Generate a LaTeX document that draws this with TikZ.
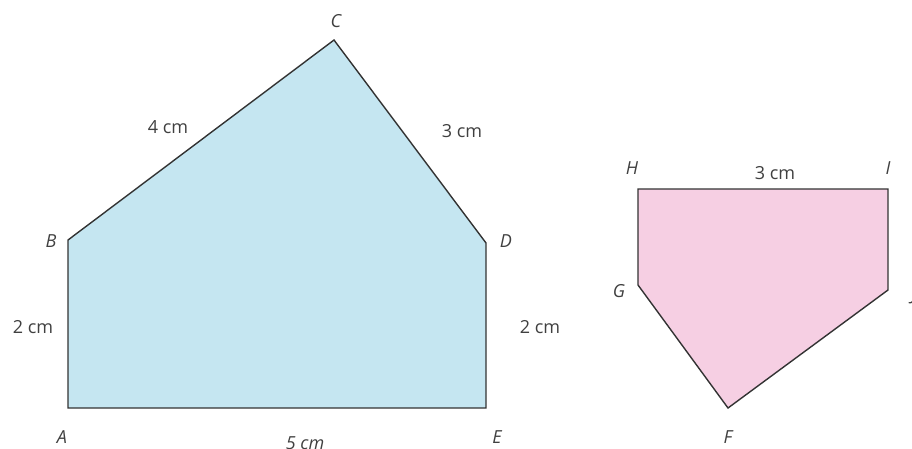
\documentclass[tikz,border=0pt]{standalone}
\usepackage{fontspec}
\setmainfont{Open Sans}
\begin{document}
\begin{tikzpicture}[x=1pt,y=-1pt,
  edge/.style={draw=black!80, line width=1.4pt, line join=miter},
  lab/.style={text=black!75, font=\fontsize{18}{20}\selectfont, inner sep=0pt},
  vlab/.style={lab, font=\fontsize{18}{20}\selectfont\itshape}]
\useasboundingbox (0,0) rectangle (912,448);
\clip (0,0) rectangle (912,448);
% left pentagon
\coordinate (A) at (68,408);
\coordinate (B) at (68,240);
\coordinate (C) at (334,40);
\coordinate (D) at (486,243);
\coordinate (E) at (486,408);
\fill[fill={rgb,255:red,197;green,230;blue,241}] (A) -- (B) -- (C) -- (D) -- (E) -- cycle;
\draw[edge] (A) -- (B) -- (C) -- (D) -- (E) -- cycle;
\node[vlab] (lA) at (62,437) {A};
\node[vlab] (lB) at (51,241) {B};
\node[vlab] (lC) at (336,21) {C};
\node[vlab] (lD) at (506,241) {D};
\node[vlab] (lE) at (497,437) {E};
\node[lab] (l4) at (168,127) {4 cm};
\node[lab] (l3a) at (462,131) {3 cm};
\node[lab] (l2a) at (33,327) {2 cm};
\node[lab] (l2b) at (540,327) {2 cm};
\node[vlab] (l5) at (305,443) {5 cm};
% right pentagon
\coordinate (H) at (638,189);
\coordinate (I) at (888,189);
\coordinate (J) at (888,290);
\coordinate (F) at (728,408);
\coordinate (G) at (638,285);
\fill[fill={rgb,255:red,246;green,207;blue,227}] (H) -- (I) -- (J) -- (F) -- (G) -- cycle;
\draw[edge] (H) -- (I) -- (J) -- (F) -- (G) -- cycle;
\node[vlab] (lH) at (632,168) {H};
\node[vlab] (lI) at (888,168) {I};
\node[vlab] (lJ) at (914,296) {J};
\node[vlab] (lG) at (619,291) {G};
\node[vlab] (lF) at (728,437) {F};
\node[lab] (l3b) at (775,173) {3 cm};
\end{tikzpicture}
\end{document}
